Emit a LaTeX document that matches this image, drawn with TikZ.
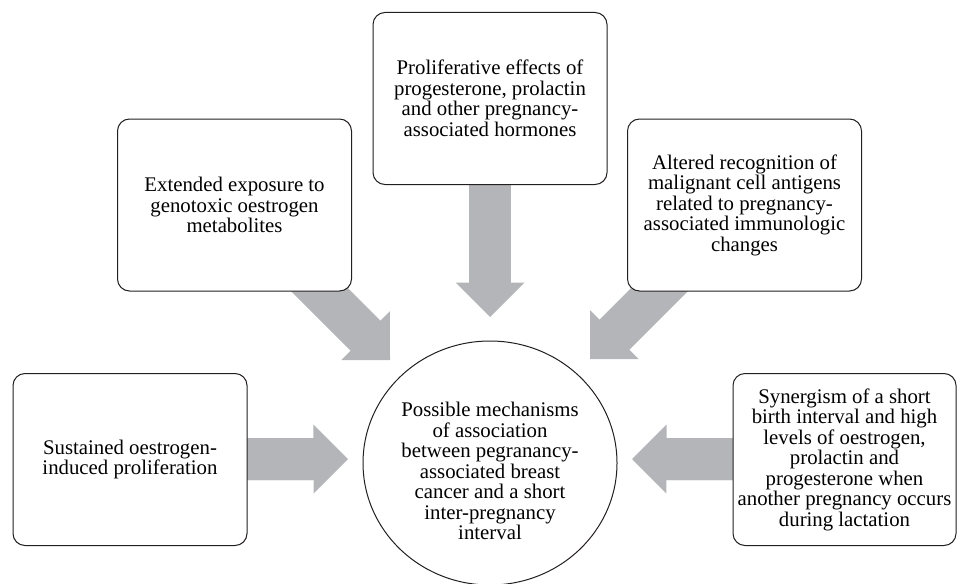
\documentclass[tikz,border=0pt]{standalone}
\usepackage{fontspec}
\setmainfont{Liberation Serif}
\usetikzlibrary{arrows.meta,shapes.geometric}
\pgfdeclarelayer{nodelayer}
\pgfdeclarelayer{edgelayer}
\pgfsetlayers{edgelayer,nodelayer,main}
\definecolor{arrowgrey}{RGB}{180,181,184}
\definecolor{inkline}{RGB}{35,31,32}
\tikzstyle{factor}=[fill=white, draw=inkline, shape=rectangle, rounded corners=12pt, line width=1pt, minimum width=234pt, minimum height=172pt, inner sep=0pt, align=center, font=\fontsize{20.8}{20.5}\selectfont]
\tikzstyle{factor narrow}=[factor, minimum width=223pt]
\tikzstyle{hub}=[fill=white, draw=inkline, shape=ellipse, line width=1pt, minimum width=254pt, minimum height=244pt, inner sep=0pt]
\tikzstyle{hub text}=[fill=none, draw=none, align=center, inner sep=0pt, font=\fontsize{20.8}{20.5}\selectfont]
\tikzstyle{none}=[fill=none, draw=none, shape=circle, scale=0]
\tikzstyle{block edge}=[draw=arrowgrey, line width=42pt, -{Triangle[width=69pt, length=34.5pt, line width=0pt]}, preaction={draw=arrowgrey, -, line width=42pt, shorten >=30pt}]

\begin{document}
\begin{tikzpicture}[x=1pt, y=-1pt]
	\useasboundingbox (0, 0) rectangle (957, 583);
	\begin{pgfonlayer}{nodelayer}
		\node [style=factor] (0) at (490, 98.5) {Proliferative effects of\\progesterone, prolactin\\and other pregnancy-\\associated hormones};
		\node [style=factor] (1) at (234.5, 205) {Extended exposure to\\genotoxic oestrogen\\metabolites};
		\node [style=factor] (2) at (744.5, 205) {Altered recognition of\\malignant cell antigens\\related to pregnancy-\\associated immunologic\\changes};
		\node [style=factor] (3) at (130, 459.5) {Sustained oestrogen-\\induced proliferation};
		\node [style=factor narrow] (4) at (844.5, 459.5) {Synergism of a short\\birth interval and high\\levels of oestrogen,\\prolactin and\\progesterone when\\another pregnancy occurs\\during lactation};
		\node [style=hub] (5) at (490, 463) {};
		\node [style=hub text] (6) at (490, 471) {Possible mechanisms\\of association\\between pegranancy-\\associated breast\\cancer and a short\\inter-pregnancy\\interval};
		\node [style=none] (7) at (490, 317) {};
		\node [style=none] (8) at (390, 360) {};
		\node [style=none] (9) at (590, 359) {};
		\node [style=none] (10) at (348, 459) {};
		\node [style=none] (11) at (632, 459) {};
	\end{pgfonlayer}
	\begin{pgfonlayer}{edgelayer}
		\draw [style=block edge] (0.center) to (7.center);
		\draw [style=block edge] (1.center) to (8.center);
		\draw [style=block edge] (2.center) to (9.center);
		\draw [style=block edge] (3.center) to (10.center);
		\draw [style=block edge] (4.center) to (11.center);
	\end{pgfonlayer}
\end{tikzpicture}
\end{document}
